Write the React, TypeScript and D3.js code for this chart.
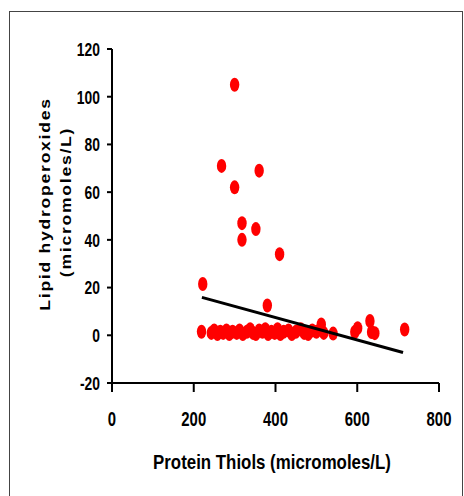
import React from "react";
import * as d3 from "d3";

const xTicks = [0, 200, 400, 600, 800];
const yTicks = [-20, 0, 20, 40, 60, 80, 100, 120];

const outlierX = [300, 268, 360, 300, 318, 352, 318, 410, 222, 380];
const outlierY = [105, 71, 69, 62, 47, 44.5, 40, 34, 21.5, 12.5];

const clusterX = [219, 243, 250, 258, 265, 272, 280, 287, 295, 305, 312, 320, 330, 338, 345, 352, 360, 368, 375, 382, 390, 398, 405, 412, 420, 432, 440, 450, 462, 470, 480, 490, 500, 512, 518, 541, 594, 601, 631, 635, 643, 716];
const clusterY = [1.5, 1, 2, 0.5, 1.5, 1, 2, 0.5, 1.5, 1, 2, 0.5, 1.5, 2.5, 1, 0.5, 2, 1.5, 2.5, 0.5, 1.5, 1, 2.5, 0.5, 1.5, 2, 0.5, 1.5, 2.5, 1, 0.5, 2, 1.5, 4.5, 1, 0.7, 1.4, 3, 6, 1.4, 0.9, 2.4];

const regStartX = 220;
const regEndX = 712;
const regIntercept = 26.2;
const regSlope = -0.0469;

const xTitle = "Protein Thiols (micromoles/L)";
const yTitle1 = "Lipid hydroperoxides";
const yTitle2 = "(micromoles/L)";

export default function App() {
  const x = d3.scaleLinear().domain([0, 800]).range([112, 439]);
  const y = d3.scaleLinear().domain([-20, 120]).range([383, 49]);
  const pts = [
    ...outlierX.map((v, i) => [v, outlierY[i]]),
    ...clusterX.map((v, i) => [v, clusterY[i]]),
  ];
  const reg = d3.line<number>()
    .x((d) => x(d))
    .y((d) => y(regIntercept + regSlope * d));
  const font = "'Liberation Sans', Arial, sans-serif";
  return (
    <div style={{ position: "absolute", left: 0, top: 0 }}>
      <svg width={464} height={496} style={{ display: "block" }}>
        <rect x={0} y={0} width={464} height={496} fill="#fff" />
        <rect x={9.5} y={11.5} width={453} height={500} fill="none" stroke="#444" strokeWidth={1} />
        {/* axes */}
        <line x1={x(0)} x2={x(800)} y1={y(-20)} y2={y(-20)} stroke="#000" strokeWidth={2} />
        <line x1={x(0)} x2={x(0)} y1={y(-20)} y2={y(120)} stroke="#000" strokeWidth={2} />
        {yTicks.map((t) => (
          <g key={"y" + t}>
            <line x1={x(0) - 5} x2={x(0)} y1={y(t)} y2={y(t)} stroke="#000" strokeWidth={2} />
            <text transform={`translate(${x(0) - 12},${y(t) + 6.8}) scale(0.73,1)`} textAnchor="end" fontFamily={font} fontWeight="bold" fontSize={19}>{t}</text>
          </g>
        ))}
        {xTicks.map((t) => (
          <g key={"x" + t}>
            <line x1={x(t)} x2={x(t)} y1={y(-20)} y2={y(-20) + 9} stroke="#000" strokeWidth={2} />
            <text transform={`translate(${x(t)},${425.5}) scale(0.71,1)`} textAnchor="middle" fontFamily={font} fontWeight="bold" fontSize={21}>{t}</text>
          </g>
        ))}
        {/* points */}
        {pts.map((p, i) => (
          <ellipse key={i} cx={x(p[0])} cy={y(p[1])} rx={4.7} ry={7} fill="#ff0000" />
        ))}
        {/* regression */}
        <path d={reg([regStartX, regEndX]) || ""} stroke="#000" strokeWidth={3} fill="none" />
        {/* titles */}
        <text transform="translate(272,469) scale(0.865,1)" textAnchor="middle" fontFamily={font} fontWeight="bold" fontSize={19.5}>{xTitle}</text>
        <text transform="translate(50,204) rotate(-90) scale(1.17,1)" textAnchor="middle" fontFamily={font} fontWeight="bold" fontSize={15} letterSpacing={1.5}>{yTitle1}</text>
        <text transform="translate(71,202) rotate(-90) scale(1.17,1)" textAnchor="middle" fontFamily={font} fontWeight="bold" fontSize={15} letterSpacing={1.5}>{yTitle2}</text>
      </svg>
    </div>
  );
}
